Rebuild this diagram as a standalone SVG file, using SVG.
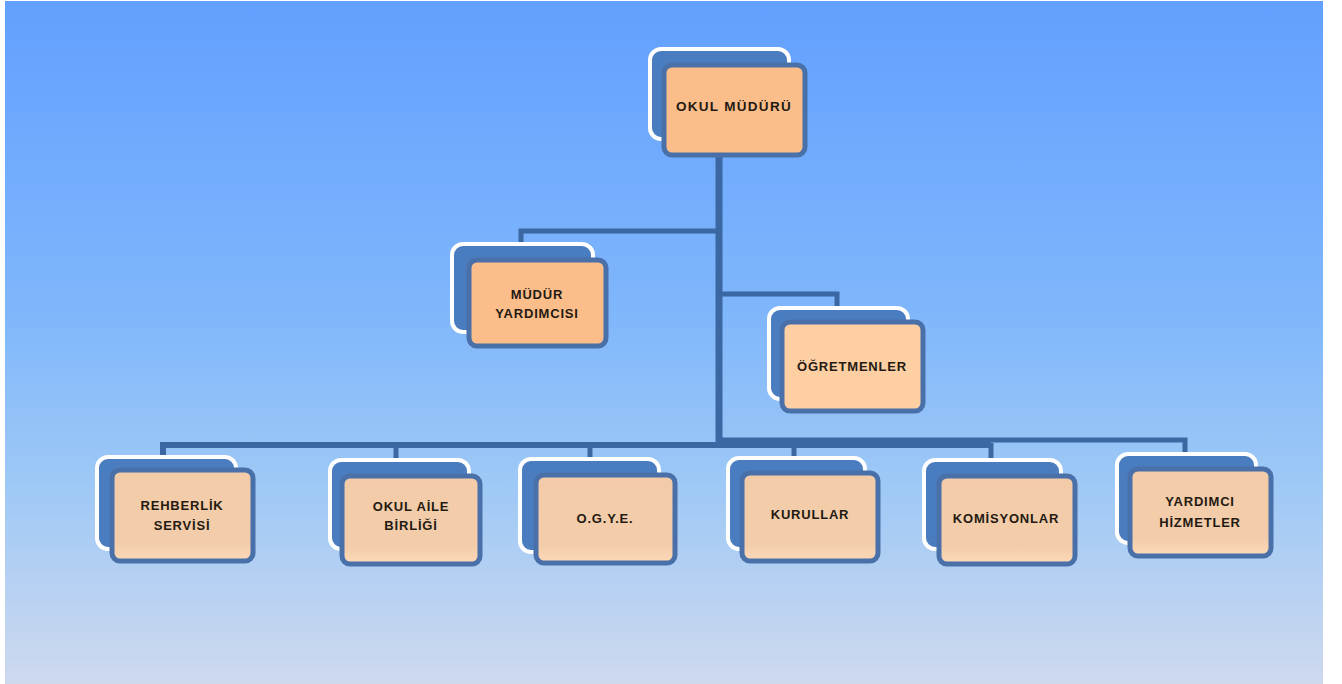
<svg xmlns="http://www.w3.org/2000/svg" width="1342" height="684" viewBox="0 0 1342 684">
<defs>
<linearGradient id="bg" x1="0" y1="0" x2="0" y2="1">
<stop offset="0" stop-color="#62A0FF"/>
<stop offset="0.45" stop-color="#7FB6FB"/>
<stop offset="0.7" stop-color="#9DC8F6"/>
<stop offset="1" stop-color="#CED9EE"/>
</linearGradient>
<linearGradient id="peach" x1="0" y1="0" x2="0" y2="1">
<stop offset="0" stop-color="#F3CBA8"/>
<stop offset="0.8" stop-color="#F3CDAB"/>
<stop offset="1" stop-color="#FCD9B8"/>
</linearGradient>
<style>
.back{fill:#4A7DC0;stroke:#FFFFFF;stroke-width:4}
.front{stroke:#4970A8;stroke-width:5}
.top{fill:#FBBE8B}
.mid{fill:#FDCFA3}
.low{fill:url(#peach)}
.lbl{font-family:"Liberation Sans",Arial,sans-serif;font-weight:bold;font-size:13px;fill:#241A12;text-anchor:middle;letter-spacing:0.8px}
.big{font-size:13.5px;letter-spacing:1.3px}
.con{stroke:#3B67A2;fill:none;stroke-linecap:butt}
</style>
</defs>
<rect x="0" y="0" width="1342" height="684" fill="#FFFFFF"/>
<rect x="5" y="1" width="1318" height="683" fill="url(#bg)"/>

<g id="connectors">
<line class="con" x1="719" y1="155" x2="719" y2="448" stroke-width="7"/>
<polyline class="con" points="719,231 521,231 521,244" stroke-width="5"/>
<polyline class="con" points="719,294 837,294 837,307" stroke-width="5"/>
<polyline class="con" points="163,456 163,445 991,445" stroke-width="6"/>
<line class="con" x1="396" y1="445" x2="396" y2="459" stroke-width="5"/>
<line class="con" x1="590" y1="445" x2="590" y2="458" stroke-width="5"/>
<line class="con" x1="794" y1="445" x2="794" y2="457" stroke-width="5"/>
<line class="con" x1="991" y1="443" x2="991" y2="459" stroke-width="5"/>
<polyline class="con" points="719,440 1185,440 1185,453" stroke-width="5"/>
</g>

<g id="okul-muduru">
<rect class="back" x="650" y="49" width="139" height="90" rx="11"/>
<rect class="front top" x="664" y="65" width="141" height="90" rx="8"/>
<text class="lbl big" x="734" y="111">OKUL MÜDÜRÜ</text>
</g>

<g id="mudur-yardimcisi">
<rect class="back" x="452" y="244" width="141" height="88" rx="11"/>
<rect class="front top" x="469" y="260" width="137" height="86" rx="8"/>
<text class="lbl" x="537" y="299">MÜDÜR</text>
<text class="lbl" x="537" y="318">YARDIMCISI</text>
</g>

<g id="ogretmenler">
<rect class="back" x="769" y="308" width="139" height="91" rx="11"/>
<rect class="front mid" x="782" y="322" width="141" height="89" rx="8"/>
<text class="lbl" x="852" y="371">ÖĞRETMENLER</text>
</g>

<g id="rehberlik">
<rect class="back" x="97" y="457" width="139" height="92" rx="11"/>
<rect class="front low" x="112" y="470" width="141" height="91" rx="8"/>
<text class="lbl" x="182" y="510">REHBERLİK</text>
<text class="lbl" x="182" y="530">SERVİSİ</text>
</g>

<g id="okul-aile">
<rect class="back" x="330" y="460" width="139" height="89" rx="11"/>
<rect class="front low" x="342" y="476" width="138" height="88" rx="8"/>
<text class="lbl" x="411" y="511">OKUL AİLE</text>
<text class="lbl" x="411" y="530">BİRLİĞİ</text>
</g>

<g id="ogye">
<rect class="back" x="520" y="459" width="139" height="93" rx="11"/>
<rect class="front low" x="536" y="475" width="139" height="88" rx="8"/>
<text class="lbl" x="605" y="523">O.G.Y.E.</text>
</g>

<g id="kurullar">
<rect class="back" x="728" y="458" width="137" height="91" rx="11"/>
<rect class="front low" x="742" y="473" width="136" height="88" rx="8"/>
<text class="lbl" x="810" y="519">KURULLAR</text>
</g>

<g id="komisyonlar">
<rect class="back" x="924" y="460" width="137" height="89" rx="11"/>
<rect class="front low" x="939" y="476" width="136" height="88" rx="8"/>
<text class="lbl" x="1006" y="523">KOMİSYONLAR</text>
</g>

<g id="yardimci-hizmetler">
<rect class="back" x="1117" y="454" width="139" height="89" rx="11"/>
<rect class="front low" x="1130" y="469" width="141" height="87" rx="8"/>
<text class="lbl" x="1200" y="506">YARDIMCI</text>
<text class="lbl" x="1200" y="527">HİZMETLER</text>
</g>
</svg>
